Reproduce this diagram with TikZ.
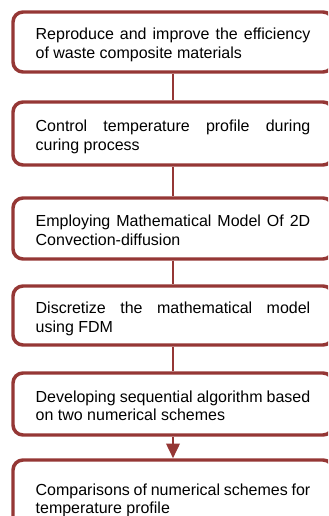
\documentclass[tikz,border=0pt]{standalone}
\usepackage{fontspec}
\setmainfont{Liberation Sans}
\usetikzlibrary{arrows.meta}

\definecolor{boxred}{RGB}{149,55,53}

\tikzset{every picture/.style={line width=0.75pt}}
\tikzset{
  stepbox/.style={draw=boxred, line width=2.6pt, rounded corners=7.5pt, fill=white,
    minimum width=240pt, inner xsep=0pt, text width=206pt, align=justify,
    text height=13.5pt, text depth=16.5pt, font=\fontsize{12pt}{13.9pt}\selectfont},
  link/.style={draw=boxred, line width=1.9pt},
}

\begin{document}
\begin{tikzpicture}[x=0.75pt,y=0.75pt,yscale=-1,xscale=1]
\useasboundingbox (0,0) rectangle (328,516); %image size
\clip (0,0) rectangle (328,516);

% Boxes
\node [stepbox, minimum height=45pt] (reproduce) at (173,42) {Reproduce and improve the efficiency\linebreak of waste composite materials};
\node [stepbox, minimum height=47.25pt] (control) at (173,133.5) {Control temperature profile during\linebreak curing process};
\node [stepbox, minimum height=45.75pt] (model) at (173,228.5) {Employing Mathematical Model Of 2D\linebreak Convection-diffusion};
\node [stepbox, minimum height=44.25pt] (discretize) at (173,315.5) {Discretize the mathematical model\linebreak using FDM};
\node [stepbox, minimum height=46.5pt] (sequential) at (173,404) {Developing sequential algorithm based\linebreak on two numerical schemes};
\node [stepbox, minimum height=55.5pt] (compare) at (173,497) {Comparisons of numerical schemes for\linebreak temperature profile};

% Connectors
\draw [link] (reproduce) -- (control);
\draw [link] (control) -- (model);
\draw [link] (model) -- (discretize);
\draw [link] (discretize) -- (sequential);
\draw [link, -{Triangle[width=10pt,length=11pt]}] (sequential) -- (compare);

\end{tikzpicture}
\end{document}
